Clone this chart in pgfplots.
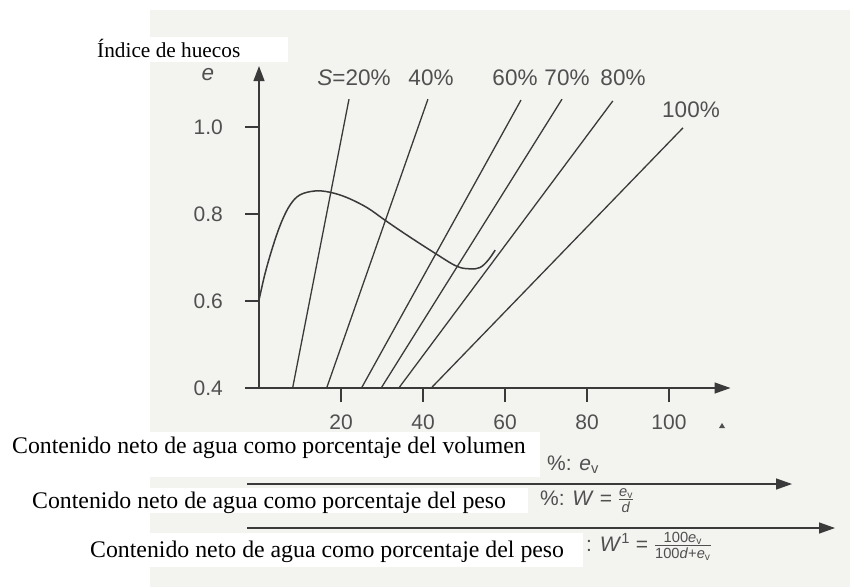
\documentclass[border=0pt]{standalone}
\usepackage{fontspec}
\setmainfont{Liberation Serif}
\setsansfont{Liberation Sans}
\usepackage{amsmath}
\usepackage{pgfplots}
\pgfplotsset{compat=1.18}
\usetikzlibrary{arrows.meta}
\definecolor{ink}{HTML}{3A3A3A}
\definecolor{txt}{HTML}{505050}
\definecolor{paper}{HTML}{F3F3F0}
\begin{document}
\begin{tikzpicture}[x=1pt,y=1pt]
\path[use as bounding box] (0,0) rectangle (850,-587);
\fill[white] (0,0) rectangle (850,-587);
\fill[paper] (150,-10) rectangle (850,-587);
\begin{axis}[
  at={(259pt,-388pt)}, anchor=south west,
  x=4.1pt, y=435pt,
  xmin=0, xmax=115, ymin=0.4, ymax=1.14,
  axis lines=left,
  axis line style={ink, line width=1.4pt},
  x axis line style={-{Triangle[length=16pt,width=11pt]}},
  y axis line style={-{Triangle[length=15pt,width=11pt]}},
  xtick={20,40,60,80,100},
  ytick={0.4,0.6,0.8,1.0},
  tick align=outside,
  major tick length=14pt,
  tick style={ink, line width=1.3pt},
  /pgf/number format/assume math mode=true,
  xticklabel style={font=\sffamily\fontsize{21}{25}\selectfont, text=txt, inner sep=0pt, anchor=north, yshift=-13pt},
  yticklabel style={font=\sffamily\fontsize{21}{25}\selectfont, text=txt, inner sep=0pt, anchor=east, xshift=-22pt,
    /pgf/number format/fixed, /pgf/number format/fixed zerofill, /pgf/number format/precision=1},
  clip=false,
]
% constant saturation lines
\addplot[ink, line width=1.3pt] coordinates {(8.2,0.4) (21.95,1.064)};
\addplot[ink, line width=1.3pt] coordinates {(16.5,0.4) (41.2,1.064)};
\addplot[ink, line width=1.3pt] coordinates {(25.0,0.4) (63.9,1.062)};
\addplot[ink, line width=1.3pt] coordinates {(29.8,0.4) (73.9,1.064)};
\addplot[ink, line width=1.3pt] coordinates {(34.1,0.4) (86.3,1.060)};
\addplot[ink, line width=1.3pt] coordinates {(42.0,0.4) (103.4,0.998)};
% compaction curve
\addplot[ink, line width=1.5pt, smooth, tension=0.6] coordinates {
 (0,0.602) (1.5,0.664) (3.5,0.729) (5.5,0.782) (7.6,0.821) (10.0,0.844)
 (13.7,0.853) (17.3,0.850) (21.4,0.838) (26.3,0.815) (30.7,0.786)
 (36.0,0.752) (42.9,0.710) (48.2,0.680) (51.5,0.674) (53.9,0.677)
 (55.9,0.694) (57.6,0.717)};
\end{axis}
% labels of the chart
\begin{scope}[every node/.style={font=\sffamily\fontsize{22.5}{27}\selectfont, text=txt, inner sep=0pt}]
\node[anchor=base] at (208,-80) {\textit{e}};
\node[anchor=base] at (354,-85) {\textit{S}=20\%};
\node[anchor=base] at (431,-85) {40\%};
\node[anchor=base] at (515,-85) {60\%};
\node[anchor=base] at (567,-85) {70\%};
\node[anchor=base] at (623,-85) {80\%};
\node[anchor=base] at (691,-117) {100\%};
\end{scope}
\fill[txt] (719,-428) -- (725,-428) -- (722,-423) -- cycle;
% top label
\fill[white] (0,-37) rectangle (288,-62);
\node[anchor=base west, inner sep=0pt, font=\fontsize{21.3}{25}\selectfont] at (97,-57) {Índice de huecos};
% bottom scales
\fill[white] (0,-432) rectangle (540,-477);
\node[anchor=base west, inner sep=0pt, font=\fontsize{23.8}{28}\selectfont] at (12,-453) {Contenido neto de agua como porcentaje del volumen};
\node[anchor=base west, inner sep=0pt, font=\sffamily\fontsize{21}{25}\selectfont, text=txt] at (547,-470) {\%: \textit{e}\textsubscript{v}};
\draw[ink, line width=1.4pt, -{Triangle[length=16pt,width=11pt]}] (247,-484) -- (792,-484);
\fill[white] (0,-488) rectangle (528,-513);
\node[anchor=base west, inner sep=0pt, font=\fontsize{23.8}{28}\selectfont] at (32,-508) {Contenido neto de agua como porcentaje del peso};
\node[anchor=base west, inner sep=0pt, font=\sffamily\fontsize{21}{25}\selectfont, text=txt] at (540,-505) {\%: \textit{W} = $\frac{\text{\textit{e}\textsubscript{v}}}{\text{\textit{d}}}$};
\draw[ink, line width=1.4pt, -{Triangle[length=16pt,width=11pt]}] (247,-528) -- (835,-528);
\fill[white] (0,-533) rectangle (583,-567);
\node[anchor=base west, inner sep=0pt, font=\fontsize{23.8}{28}\selectfont] at (90,-557) {Contenido neto de agua como porcentaje del peso};
\node[anchor=base west, inner sep=0pt, font=\sffamily\fontsize{21}{25}\selectfont, text=txt] at (586,-551) {: \textit{W}\textsuperscript{1} = $\frac{\text{100\textit{e}\textsubscript{v}}}{\text{100\textit{d}+\textit{e}\textsubscript{v}}}$};
\end{tikzpicture}
\end{document}
